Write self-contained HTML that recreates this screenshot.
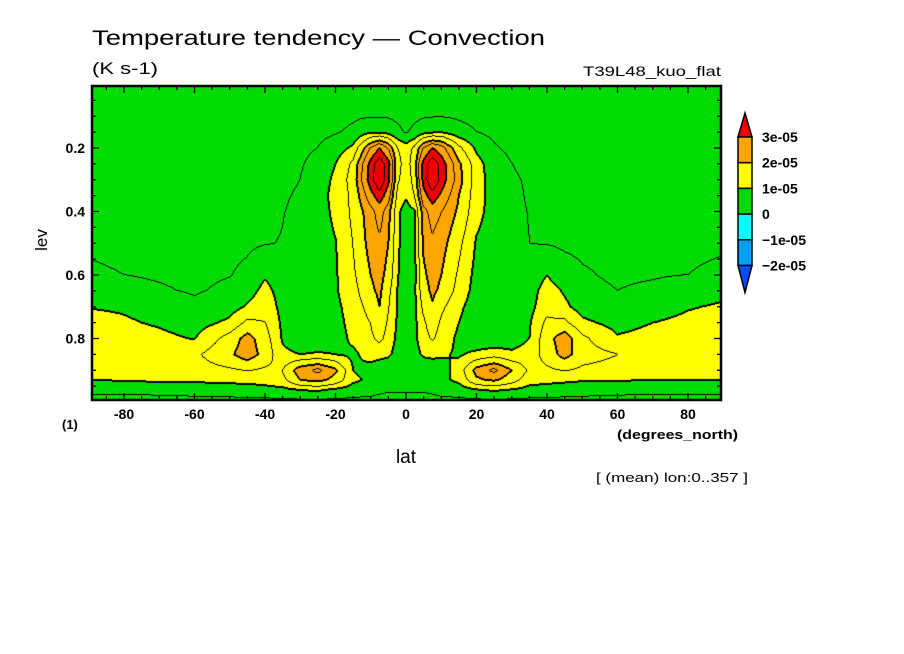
<!DOCTYPE html>
<html><head><meta charset="utf-8"><style>
html,body{margin:0;padding:0;background:#fff;width:904px;height:654px;overflow:hidden}
#wrap{position:relative;width:904px;height:654px}
canvas{position:absolute;left:92px;top:86px}
svg{position:absolute;left:0;top:0}
text{font-family:"Liberation Sans",sans-serif;fill:#000}
</style></head><body><div id="wrap">
<canvas id="field" width="629" height="314"></canvas>
<svg id="ov" width="904" height="654">
<text x="92" y="45" font-size="21" textLength="453" lengthAdjust="spacingAndGlyphs">Temperature tendency — Convection</text>
<text x="92" y="74" font-size="17" textLength="66" lengthAdjust="spacingAndGlyphs">(K s-1)</text>
<text x="721" y="76" font-size="14" text-anchor="end" textLength="138" lengthAdjust="spacingAndGlyphs">T39L48_kuo_flat</text>
<text x="0" y="0" font-size="17" transform="translate(47,240) rotate(-90)" text-anchor="middle">lev</text>
<text x="62" y="429" font-size="13" font-weight="bold">(1)</text>
<text x="738" y="439" font-size="13" font-weight="bold" text-anchor="end" textLength="121" lengthAdjust="spacingAndGlyphs">(degrees_north)</text>
<text x="406" y="463" font-size="19" text-anchor="middle">lat</text>
<text x="748" y="482" font-size="13" text-anchor="end" textLength="152" lengthAdjust="spacingAndGlyphs">[ (mean) lon:0..357 ]</text>
<g id="axes"></g>
<g id="cbar"></g>
</svg>
</div>
<script>
// Grid coordinates (latitude in degrees_north, level in sigma)
const lats=[-90,-80,-70,-60,-50,-45,-40,-35,-30,-25,-20,-15,-10,-7.5,-5,-2.5,0,2.5,5,7.5,10,15,20,25,30,35,40,45,50,60,70,80,90];
const levs=[0,0.1,0.15,0.2,0.25,0.3,0.35,0.4,0.5,0.6,0.65,0.7,0.75,0.8,0.85,0.9,0.93,0.96,1.0];
// Values in 1e-05 K s-1, one row per level
const row000=[0.2,0.2,0.2,0.2,0.2,0.2,0.2,0.2,0.2,0.2,0.2,0.2,0.2,0.2,0.2,0.2,0.2,0.2,0.2,0.2,0.2,0.2,0.2,0.2,0.2,0.2,0.2,0.2,0.2,0.2,0.2,0.2,0.2];
const row010=[0.3,0.3,0.3,0.3,0.3,0.3,0.3,0.3,0.3,0.32,0.35,0.42,0.46,0.46,0.44,0.4,0.38,0.4,0.44,0.46,0.47,0.42,0.35,0.32,0.3,0.3,0.3,0.3,0.3,0.3,0.3,0.3,0.3];
const row015=[0.3,0.3,0.3,0.3,0.3,0.3,0.3,0.3,0.33,0.38,0.45,0.6,0.95,0.95,0.85,0.6,0.45,0.6,0.85,0.95,1.0,0.7,0.5,0.38,0.33,0.3,0.3,0.3,0.3,0.3,0.3,0.3,0.3];
const row020=[0.3,0.3,0.3,0.3,0.3,0.3,0.3,0.35,0.4,0.5,0.75,1.1,2.5,3.0,2.4,1.5,1.2,1.6,2.5,3.0,2.7,1.6,0.9,0.55,0.4,0.35,0.3,0.3,0.3,0.3,0.3,0.3,0.3];
const row025=[0.3,0.3,0.3,0.3,0.3,0.3,0.35,0.4,0.45,0.65,1.0,1.6,3.2,3.8,3.2,1.7,1.2,1.8,3.2,3.8,3.3,2.1,1.2,0.7,0.5,0.4,0.35,0.3,0.3,0.3,0.3,0.3,0.3];
const row030=[0.3,0.3,0.3,0.3,0.3,0.3,0.33,0.4,0.5,0.75,1.1,1.7,3.3,3.9,3.1,1.6,1.1,1.7,3.2,3.9,3.3,2.2,1.2,0.8,0.55,0.45,0.35,0.3,0.3,0.3,0.3,0.3,0.3];
const row035=[0.3,0.3,0.3,0.3,0.3,0.3,0.35,0.45,0.55,0.8,1.15,1.6,2.8,3.3,2.7,1.3,1.05,1.5,2.8,3.3,2.9,2.0,1.2,0.8,0.6,0.45,0.38,0.3,0.3,0.3,0.3,0.3,0.3];
const row040=[0.3,0.3,0.3,0.3,0.3,0.3,0.38,0.48,0.6,0.8,1.1,1.6,2.3,2.7,2.2,1.1,0.8,0.95,2.3,2.7,2.5,1.9,1.15,0.8,0.6,0.48,0.38,0.3,0.3,0.3,0.3,0.3,0.3];
const row050=[0.45,0.42,0.4,0.38,0.4,0.42,0.47,0.52,0.65,0.8,0.98,1.5,2.2,2.4,2.0,1.1,0.75,0.95,2.1,2.4,2.2,1.6,0.95,0.75,0.6,0.5,0.47,0.42,0.4,0.42,0.45,0.47,0.48];
const row060=[0.55,0.5,0.45,0.4,0.48,0.6,0.95,0.7,0.65,0.75,0.95,1.4,2.0,2.2,1.8,1.05,0.7,0.9,1.9,2.2,2.0,1.4,0.85,0.65,0.6,0.7,1.0,0.7,0.55,0.42,0.45,0.5,0.53];
const row065=[0.7,0.65,0.55,0.45,0.6,0.8,1.15,0.8,0.7,0.75,0.95,1.3,1.9,2.1,1.6,1.0,0.7,0.95,1.8,2.1,1.9,1.3,0.8,0.6,0.6,0.8,1.2,0.95,0.65,0.5,0.6,0.8,0.9];
const row070=[0.98,0.95,0.85,0.6,0.8,1.05,1.3,0.85,0.75,0.7,0.9,1.2,1.7,2.0,1.5,1.0,0.7,0.9,1.6,1.95,1.6,1.1,0.75,0.6,0.65,0.85,1.3,1.1,0.8,0.6,0.8,0.97,1.05];
const row075=[1.15,1.05,0.95,0.8,1.1,1.6,1.5,0.9,0.7,0.7,0.85,1.15,1.5,1.8,1.4,0.95,0.65,0.9,1.4,1.75,1.4,1.0,0.7,0.6,0.7,0.95,1.6,1.6,1.1,0.85,1.0,1.1,1.15];
const row080=[1.3,1.2,1.1,0.98,1.7,2.2,1.7,0.95,0.7,0.7,0.8,1.1,1.4,1.6,1.3,0.9,0.6,0.9,1.3,1.55,1.25,0.9,0.7,0.65,0.75,1.0,1.8,2.3,1.6,1.05,1.15,1.25,1.3];
const row085=[1.45,1.5,1.45,1.4,1.9,2.3,1.8,1.1,1.0,1.05,1.0,0.9,1.2,1.2,1.1,0.8,0.6,0.8,1.1,1.15,1.05,0.95,1.1,1.25,1.1,1.2,1.7,2.2,1.7,1.5,1.45,1.5,1.45];
const row090=[1.35,1.4,1.35,1.3,1.4,1.5,1.4,1.5,2.3,2.6,2.1,1.0,0.8,0.6,0.55,0.55,0.55,0.55,0.55,0.6,0.8,1.2,2.2,2.6,2.0,1.4,1.4,1.5,1.4,1.3,1.3,1.35,1.35];
const row093=[1.0,1.05,1.1,1.1,1.15,1.15,1.2,1.35,2.0,2.2,1.8,1.1,0.9,0.7,0.6,0.6,0.6,0.6,0.6,0.7,0.9,1.1,1.9,2.1,1.7,1.2,1.15,1.1,1.05,1.05,1.0,1.0,1.0];
const row096=[0.6,0.6,0.65,0.7,0.75,0.8,0.85,0.9,1.05,1.1,0.95,0.8,0.7,0.6,0.55,0.55,0.55,0.55,0.55,0.6,0.7,0.8,1.0,1.1,1.0,0.85,0.8,0.75,0.7,0.65,0.6,0.6,0.6];
const row100=[0.3,0.3,0.3,0.3,0.3,0.3,0.3,0.3,0.3,0.3,0.3,0.3,0.3,0.3,0.3,0.3,0.3,0.3,0.3,0.3,0.3,0.3,0.3,0.3,0.3,0.3,0.3,0.3,0.3,0.3,0.3,0.3,0.3];
const values=[row000,row010,row015,row020,row025,row030,row035,row040,row050,row060,row065,row070,row075,row080,row085,row090,row093,row096,row100];
// Axis ticks
const latTicks=[-80,-60,-40,-20,0,20,40,60,80];
const levTicks=[0.2,0.4,0.6,0.8];
const cbarLevels=[3,2,1,0,-1,-2];
const cbarLabels=["3e-05","2e-05","1e-05","0","\u22121e-05","\u22122e-05"];

const PX0=92,PY0=86,PW=629,PH=314;
function xOf(lat){return 406+lat*3.525;}
function yOf(lev){return 148+(lev-0.2)*317.5;}
function latOf(x){return (x-406)/3.525;}
function levOf(y){return 0.2+(y-148)/317.5;}
function idx(arr,v){let i=0;while(i<arr.length-2&&v>arr[i+1])i++;return i;}
function field(lat,lev){
  lat=Math.max(-90,Math.min(90,lat));lev=Math.max(0,Math.min(1,lev));
  const i=idx(lats,lat),j=idx(levs,lev);
  const tx=(lat-lats[i])/(lats[i+1]-lats[i]),ty=(lev-levs[j])/(levs[j+1]-levs[j]);
  const a=values[j][i],b=values[j][i+1],c=values[j+1][i],d=values[j+1][i+1];
  return (a*(1-tx)+b*tx)*(1-ty)+(c*(1-tx)+d*tx)*ty;
}
const colors=[[0,80,255],[0,160,255],[0,255,255],[0,220,0],[255,255,0],[255,165,0],[240,0,0]];
function cidx(v){if(v<-2)return 0;if(v<-1)return 1;if(v<0)return 2;if(v<1)return 3;if(v<2)return 4;if(v<3)return 5;return 6;}
const cv=document.getElementById('field'),ctx=cv.getContext('2d');
const img=ctx.createImageData(PW,PH);
const V=new Float32Array(PW*PH);
for(let y=0;y<PH;y++)for(let x=0;x<PW;x++)V[y*PW+x]=field(latOf(PX0+x+0.5),levOf(PY0+y+0.5));
for(let y=0;y<PH;y++)for(let x=0;x<PW;x++){
  const v=V[y*PW+x];let c=colors[cidx(v)];
  const k=Math.floor(v*2);let line=false;
  const nb=[[1,0],[0,1],[-1,0],[0,-1]];
  for(let n=0;n<4;n++){const xx=x+nb[n][0],yy=y+nb[n][1];if(xx<0||yy<0||xx>=PW||yy>=PH)continue;
    const w=V[yy*PW+xx];const k2=Math.floor(w*2);if(k2===k)continue;
    const lv=Math.max(k,k2);const thick=(lv%2===0);
    if(thick){line=true;break;}
    if(k2>k){line=true;break;}
  }
  if(line)c=[0,0,0];
  const p=(y*PW+x)*4;img.data[p]=c[0];img.data[p+1]=c[1];img.data[p+2]=c[2];img.data[p+3]=255;
}
ctx.putImageData(img,0,0);

const NS='http://www.w3.org/2000/svg';
const ax=document.getElementById('axes');
function mk(tag,attrs,parent){const e=document.createElementNS(NS,tag);for(const k in attrs)e.setAttribute(k,attrs[k]);parent.appendChild(e);return e;}
const frame=mk('rect',{x:PX0,y:PY0,width:PW,height:PH,fill:'none',stroke:'#000','stroke-width':2.5},ax);


for(let lat=-85;lat<=85;lat+=5){
  const x=xOf(lat);const major=latTicks.indexOf(lat)>=0;const L=major?7:4;
  const t1=mk('line',{x1:x,x2:x,y1:PY0+PH,y2:PY0+PH-L,stroke:'#000','stroke-width':1.3},ax);
  
  
  const t2=mk('line',{x1:x,x2:x,y1:PY0,y2:PY0+L,stroke:'#000','stroke-width':1.3},ax);
  
  
}
latTicks.forEach(lat=>{
  const t=mk('text',{x:xOf(lat),y:419,'font-size':14,'font-weight':'bold','text-anchor':'middle'},ax);t.textContent=lat;
  
  
});
for(let lev=0.05;lev<0.99;lev+=0.05){
  const y=yOf(lev);if(y<PY0+1)continue;const major=levTicks.some(t=>Math.abs(t-lev)<1e-6);const L=major?7:4;
  const t1=mk('line',{x1:PX0,x2:PX0+L,y1:y,y2:y,stroke:'#000','stroke-width':1.3},ax);
  
  
  const t2=mk('line',{x1:PX0+PW,x2:PX0+PW-L,y1:y,y2:y,stroke:'#000','stroke-width':1.3},ax);
  
  
}
levTicks.forEach(lev=>{
  const t=mk('text',{x:85,y:yOf(lev)+5,'font-size':14,'font-weight':'bold','text-anchor':'end'},ax);t.textContent=lev.toFixed(1);
  
  
});
// colorbar
const cb=document.getElementById('cbar');
const cx=738,cw=14,cyTop=137,bh=25.7;
const boxCols=['rgb(255,165,0)','rgb(255,255,0)','rgb(0,220,0)','rgb(0,255,255)','rgb(0,160,255)'];
const up=mk('polygon',{points:`${cx},${cyTop} ${cx+cw},${cyTop} ${cx+cw/2},${cyTop-24}`,fill:'rgb(240,0,0)',stroke:'#000','stroke-width':1.5},cb);


boxCols.forEach((c,i)=>{
  const r=mk('rect',{x:cx,y:cyTop+i*bh,width:cw,height:bh,fill:c,stroke:'#000','stroke-width':1.5},cb);
  
  
});
const yb=cyTop+5*bh;
const dn=mk('polygon',{points:`${cx},${yb} ${cx+cw},${yb} ${cx+cw/2},${yb+27}`,fill:'rgb(0,80,255)',stroke:'#000','stroke-width':1.5},cb);


cbarLevels.forEach((lv,i)=>{
  const t=mk('text',{x:762,y:cyTop+i*bh+5,'font-size':14,'font-weight':'bold'},cb);t.textContent=cbarLabels[i];
  
  
});
</script>
</body></html>
